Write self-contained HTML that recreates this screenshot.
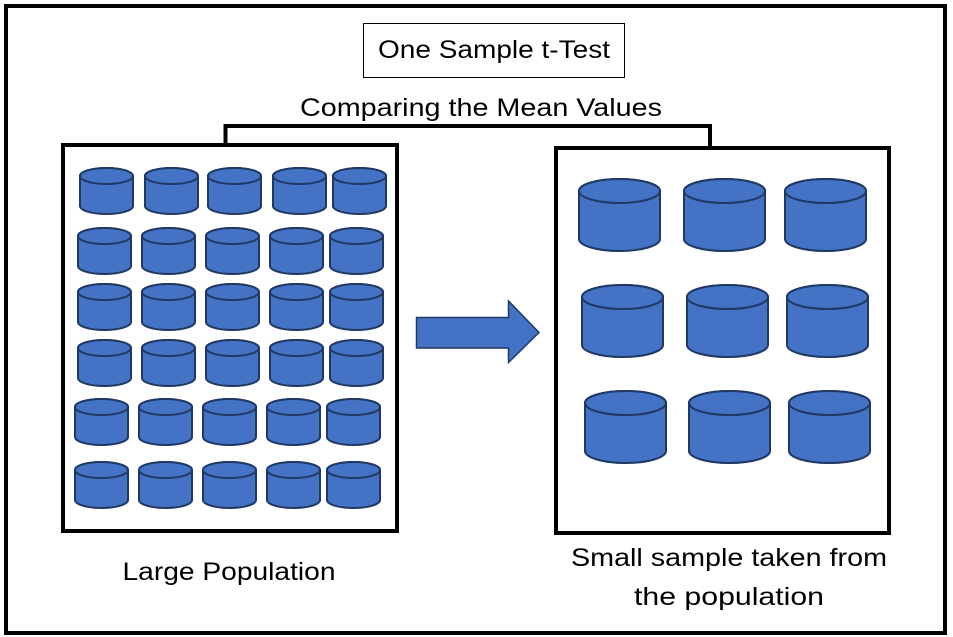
<!DOCTYPE html>
<html><head><meta charset="utf-8"><style>
html,body{margin:0;padding:0;background:#fff}
svg{display:block}
text{font-family:"Liberation Sans",sans-serif;fill:#000}
</style></head><body>
<svg id="s" width="953" height="637" viewBox="0 0 953 637" xmlns="http://www.w3.org/2000/svg">
<rect x="6" y="6" width="939" height="627" fill="#fff" stroke="#000" stroke-width="4"/>
<rect x="363.5" y="23.5" width="261" height="54" fill="#fff" stroke="#000" stroke-width="1"/>
<text x="494" y="58" font-size="25" text-anchor="middle" textLength="232" lengthAdjust="spacingAndGlyphs">One Sample t-Test</text>
<text x="481" y="116" font-size="25" text-anchor="middle" textLength="362" lengthAdjust="spacingAndGlyphs">Comparing the Mean Values</text>
<polyline points="225.5,145 225.5,126 710,126 710,148" fill="none" stroke="#000" stroke-width="4"/>
<rect x="63" y="145" width="334" height="386" fill="#fff" stroke="#000" stroke-width="4"/>
<rect x="556" y="148" width="333" height="385" fill="#fff" stroke="#000" stroke-width="4"/>
<polygon points="416.5,317.5 508.5,317.5 508.5,301 539,332.5 508.5,362.5 508.5,348 416.5,348" fill="#4472c4" stroke="#1f3864" stroke-width="1.5"/>
<text x="229" y="580" font-size="25" text-anchor="middle" textLength="213" lengthAdjust="spacingAndGlyphs">Large Population</text>
<text x="729" y="566" font-size="25" text-anchor="middle" textLength="316" lengthAdjust="spacingAndGlyphs">Small sample taken from</text>
<text x="729" y="605" font-size="25" text-anchor="middle" textLength="190" lengthAdjust="spacingAndGlyphs">the population</text>
<g id="cyl"></g>
</svg>
<script>
var g=document.getElementById('cyl'),h='';
function cyl(x,y,w,H,ry){
 var rx=w/2,cx=x+rx,t=y+ry,b=y+H-ry;
 h+='<path d="M'+x+','+t+' L'+x+','+b+' A'+rx+','+ry+' 0 0 0 '+(x+w)+','+b+' L'+(x+w)+','+t+' A'+rx+','+ry+' 0 0 0 '+x+','+t+' Z" fill="#4472c4" stroke="#1f3864" stroke-width="2"/>';
 h+='<ellipse cx="'+cx+'" cy="'+t+'" rx="'+rx+'" ry="'+ry+'" fill="#4472c4" stroke="#1f3864" stroke-width="2"/>';
}
var rows=[[[80,145,208,273,333],168],[[78,142,206,270,330],228],[[78,142,206,270,330],284],[[78,142,206,270,330],340],[[75,139,203,267,327],399],[[75,139,203,267,327],462]];
rows.forEach(function(r){r[0].forEach(function(x){cyl(x,r[1],53,46,8);});});
var big=[[[579,684,785],179],[[582,687,787],285],[[585,689,789],391]];
big.forEach(function(r){r[0].forEach(function(x){cyl(x,r[1],81,72,12);});});
g.innerHTML=h;
</script>
</body></html>
